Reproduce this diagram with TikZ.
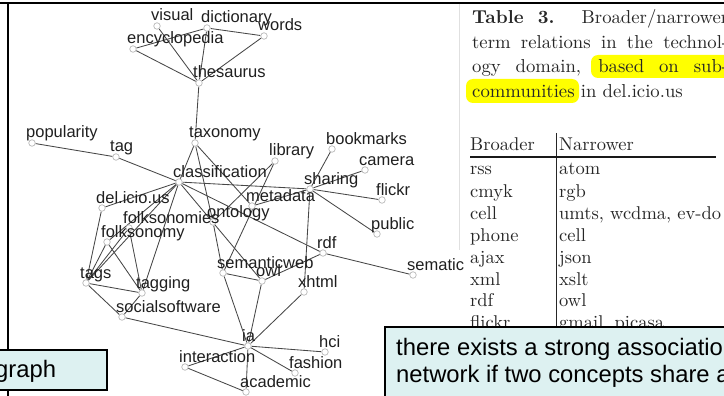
\documentclass[tikz,border=0pt]{standalone}
\usepackage{fontspec}
\usetikzlibrary{backgrounds}
\newfontfamily\arial{Liberation Sans}
\newfontfamily\cmten{lmroman10}[Extension=.otf,UprightFont=*-regular,BoldFont=*-bold]
\definecolor{notefill}{RGB}{221,241,241}
\definecolor{marker}{RGB}{255,255,0}
\newcommand\gvert[4]{%
  \node[vtx] (#1) at (#2,#3) {};
  \node[lbl] (#1-l) at ([xshift=-6pt,yshift=5pt]#1.center) {#4};}
\begin{document}
\begin{tikzpicture}[x=1pt,y=-1pt,
  vtx/.style={circle,draw=black!28,fill=white,line width=0.7pt,inner sep=0pt,minimum size=6.5pt},
  lbl/.style={anchor=base west,inner sep=0pt,text=black!88,font=\arial\fontsize{16.5}{18}\selectfont},
  link/.style={draw=black!72,line width=0.85pt},
  captext/.style={anchor=base west,inner sep=0pt,text=black!85,font=\cmten\fontsize{18.7}{24}\selectfont},
  tbl/.style={anchor=base west,inner sep=0pt,text=black!85,font=\cmten\fontsize{18.5}{22}\selectfont},
  note/.style={draw=black,line width=1.4pt,fill=notefill},
  notetext/.style={anchor=base west,inner sep=0pt,font=\arial\fontsize{23.8}{27}\selectfont}]
\useasboundingbox (0,0) rectangle (724,396);
\clip (0,0) rectangle (724,396);

% frame of the graph panel
\draw[line width=1.3pt] (0,3) -- (724,3);
\draw[line width=1.3pt] (8,3) -- (8,396);
\draw[black!12,line width=0.8pt] (459,4) -- (459,250);

% concept vertices
\gvert{visual}{157}{26}{visual}
\gvert{dictionary}{207}{28}{dictionary}
\gvert{words}{264}{36}{words}
\gvert{encyclopedia}{133}{49}{encyclopedia}
\gvert{thesaurus}{199}{83}{thesaurus}
\gvert{popularity}{32}{143}{popularity}
\gvert{tag}{116}{157}{tag}
\gvert{taxonomy}{195}{143}{taxonomy}
\gvert{classification}{179}{182}{classification}
\gvert{library}{275}{161}{library}
\gvert{bookmarks}{332}{149}{bookmarks}
\gvert{camera}{365}{170}{camera}
\gvert{sharing}{310}{189}{sharing}
\gvert{flickr}{382}{200}{flickr}
\gvert{metadata}{252}{206}{metadata}
\gvert{ontology}{213}{222}{ontology}
\gvert{delicious}{102}{208}{del.icio.us}
\gvert{folksonomies}{129}{228}{folksonomies}
\gvert{folksonomy}{107}{242}{folksonomy}
\gvert{public}{377}{234}{public}
\gvert{rdf}{323}{253}{rdf}
\gvert{semanticweb}{223}{273}{semanticweb}
\gvert{owl}{262}{281}{owl}
\gvert{xhtml}{304}{292}{xhtml}
\gvert{sematic}{413}{275}{sematic}
\gvert{tags}{86}{283}{tags}
\gvert{tagging}{142}{293}{tagging}
\gvert{socialsoftware}{122}{317}{socialsoftware}
\gvert{ia}{248}{346}{ia}
\gvert{hci}{325}{352}{hci}
\gvert{interaction}{185}{367}{interaction}
\gvert{fashion}{295}{373}{fashion}
\gvert{academic}{246}{392}{academic}

% co-occurrence links
\begin{pgfonlayer}{background}
\foreach \a/\b in {visual/thesaurus, dictionary/encyclopedia, dictionary/thesaurus,
  dictionary/words, encyclopedia/thesaurus, words/thesaurus, thesaurus/taxonomy,
  popularity/tag, tag/classification, taxonomy/classification, taxonomy/metadata,
  taxonomy/ontology, ontology/semanticweb, classification/sharing, classification/rdf,
  classification/owl, classification/delicious, classification/folksonomy,
  classification/tags, classification/tagging, library/ontology, library/semanticweb,
  sharing/bookmarks, sharing/camera, sharing/flickr, sharing/public, sharing/metadata,
  sharing/xhtml, rdf/sematic, rdf/owl, semanticweb/owl, semanticweb/ia, owl/ia,
  xhtml/ia, delicious/tags, folksonomy/tags, folksonomies/tags, folksonomy/tagging,
  folksonomies/tagging, tags/tagging, tags/socialsoftware, tagging/socialsoftware,
  socialsoftware/ia, ia/interaction, ia/hci, ia/fashion, ia/academic,
  interaction/academic}
  \draw[link] (\a) -- (\b);
\end{pgfonlayer}

% caption with highlighted words
\fill[marker,rounded corners=7pt] (591,55) rectangle (745,78);
\fill[marker,rounded corners=7pt] (466,79) rectangle (579,103);
\node[captext] (cap1) at (472,24) {\makebox[256pt][s]{\textbf{Table 3.} Broader/narrower}};
\node[captext] (cap2) at (472,49) {\makebox[256pt][s]{term relations in the technol-}};
\node[captext] (cap3) at (472,73) {\makebox[256pt][s]{ogy domain, based on sub-}};
\node[captext] (cap4) at (472,98) {communities in del.icio.us};

% broader / narrower table
\draw[black!85,line width=0.8pt] (556,133) -- (556,396);
\draw[black!90,line width=1.5pt] (470,157) -- (716,157);
\node[tbl] (hb) at (470,150) {Broader};
\node[tbl] (hn) at (559,150) {Narrower};
\foreach \y/\b/\n in {175/rss/atom, 197/cmyk/rgb, 219/cell/{umts, wcdma, ev-do},
  241/phone/cell, 263/ajax/json, 285/xml/xslt, 306/rdf/owl, 328/flickr/{gmail, picasa}} {
  \node[tbl] (b-\b) at (470,\y) {\b};
  \node[tbl] (n-\b) at (559,\y) {\n};
}

% callout boxes
\draw[note] (-5,350) rectangle (107,390);
\node[notetext] (t-graph) at (-5,377) {graph};
\draw[note] (385,327) rectangle (740,402);
\node[notetext] (t-note1) at (396,355) {there exists a strong association in the};
\node[notetext] (t-note2) at (396,382) {network if two concepts share a};
\end{tikzpicture}
\end{document}
